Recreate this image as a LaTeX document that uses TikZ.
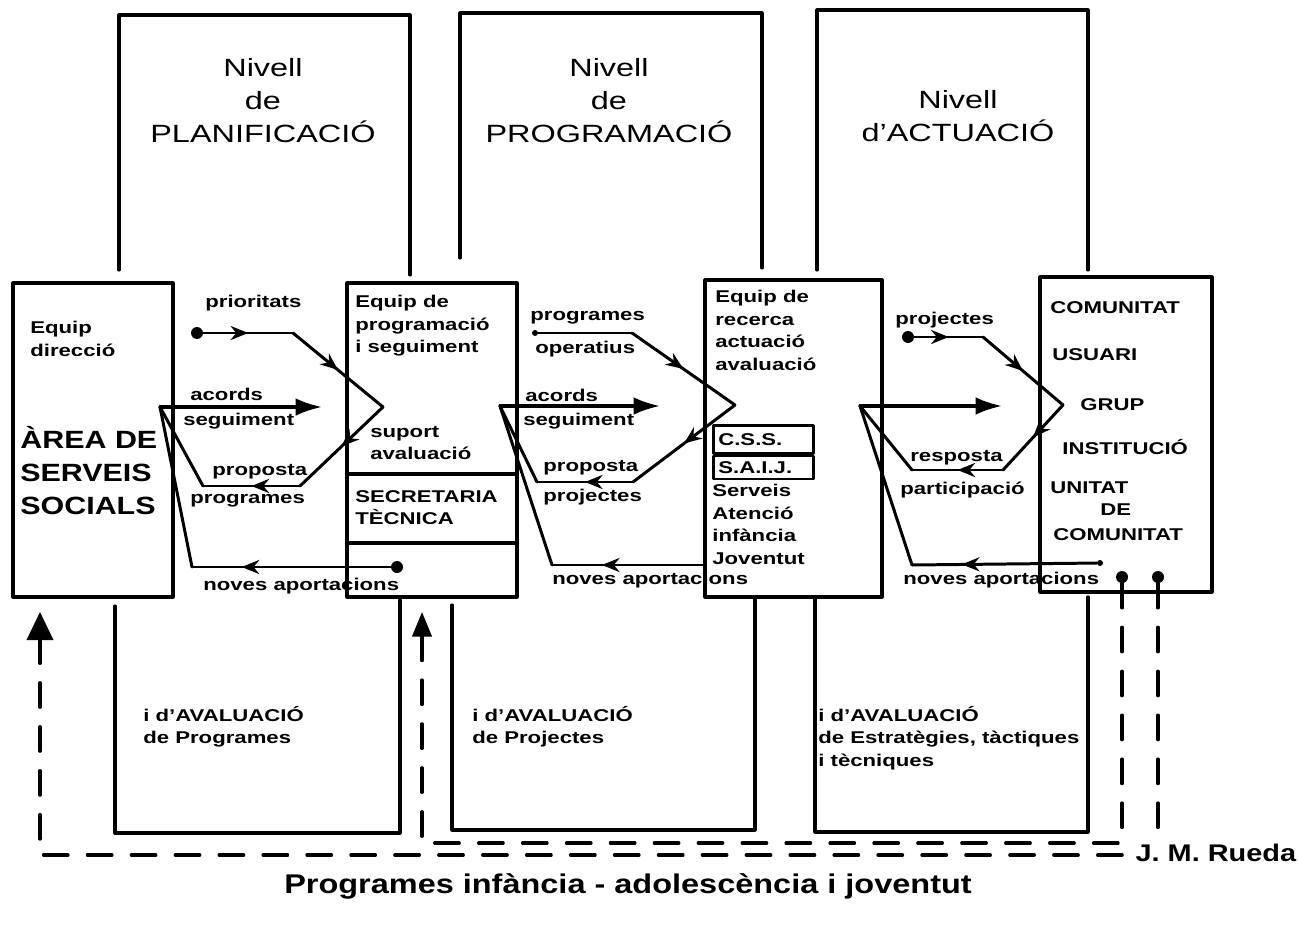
\documentclass[tikz,border=0pt]{standalone}
\usepackage{fontspec}
\setmainfont{Liberation Sans}[FakeStretch=1.3]
\newfontfamily\captionfam{Liberation Sans}[FakeStretch=1.2]
\newfontfamily\areafam{Liberation Sans}[FakeStretch=1.22]
\usetikzlibrary{arrows.meta, positioning, fit, decorations.markings}
\newcommand{\labfont}{\fontsize{9.7}{12.8}\selectfont\bfseries}
\newcommand{\levelfont}{\fontsize{14.2}{18.8}\selectfont}
\newcommand{\areafont}{\areafam\fontsize{14.2}{18.8}\selectfont\bfseries}
\newcommand{\capfont}{\captionfam\fontsize{15.4}{18}\selectfont\bfseries}
\newcommand{\signfont}{\captionfam\fontsize{13.7}{16}\selectfont\bfseries}

\begin{document}
\begin{tikzpicture}[
    x=0.02cm, y=-0.02cm,
    line cap=round, line join=round,
    box/.style={draw, line width=1.8pt, inner sep=0pt},
    frame/.style={line width=1.8pt},
    lab/.style={font=\labfont, inner sep=0pt, anchor=west},
    labblock/.style={font=\labfont, inner sep=0pt, anchor=north west, align=left},
    level/.style={font=\levelfont, inner sep=0pt, anchor=north, align=center},
    flow/.style={line width=1.7pt},
    midarrow/.style={postaction={decorate}, decoration={markings, mark=at position #1 with {\arrow{Stealth[length=10pt, width=8pt]}}}},
    midarrow/.default=0.5,
    bigarrow/.style={line width=1.8pt, -{Latex[length=15pt, width=10pt]}},
    dot/.style={circle, fill, inner sep=0pt, minimum size=0.24cm},
    feedback/.style={line width=1.8pt, dash pattern=on 14pt off 11pt},
    smallbox/.style={draw, line width=1.5pt, font=\labfont, minimum width=2cm, text width=1.8cm, inner xsep=0.1cm, inner ysep=0pt, align=left}
]
    \useasboundingbox (0,0) rectangle (1299,933);

    % Level frames (top)
    \draw[frame] (119,270) -- (119,15) -- (410,15) -- (410,275);
    \draw[frame] (460,258) -- (460,13) -- (762,13) -- (762,268);
    \draw[frame] (817,270) -- (817,10) -- (1088,10) -- (1088,270);
    \node[level] (planif) at (263,58) {Nivell\\de\\PLANIFICACIÓ};
    \node[level] (progr) at (609,58) {Nivell\\de\\PROGRAMACIÓ};
    \node[level] (actua) at (958,90) {Nivell\\d'ACTUACIÓ};

    % Evaluation frames (bottom)
    \draw[frame] (115,606) -- (115,833) -- (400,833) -- (400,600);
    \draw[frame] (452,605) -- (452,830) -- (755,830) -- (755,597);
    \draw[frame] (815,597) -- (815,832) -- (1088,832) -- (1088,597);
    \node[labblock] (avalprog) at (143,706) {i d'AVALUACIÓ\\de Programes};
    \node[labblock] (avalproj) at (472,706) {i d'AVALUACIÓ\\de Projectes};
    \node[labblock] (avalestr) at (818,706) {i d'AVALUACIÓ\\de Estratègies, tàctiques\\i tècniques};

    % Main boxes
    \node[box, fit={(13,283) (173,597)}] (area) {};
    \node[box, fit={(347,283) (517,597)}] (prog) {};
    \node[box, fit={(705,280) (882,597)}] (recerca) {};
    \node[box, fit={(1040,277) (1212,592)}] (comunitat) {};
    \draw[frame] (347,474) -- (517,474);
    \draw[frame] (347,543) -- (517,543);

    % Box texts
    \node[labblock] (equipdir) at (30,321) {Equip\\direcció};
    \node[font=\areafont, inner sep=0pt, anchor=north west, align=left] (areatext) at (20,426) {ÀREA DE\\SERVEIS\\SOCIALS};
    \node[labblock] (equipprog) at (355,295) {Equip de\\programació\\i seguiment};
    \node[labblock] (suport) at (370,426) {suport\\avaluació};
    \node[labblock] (secret) at (355,490) {SECRETARIA\\TÈCNICA};
    \node[labblock] (equiprec) at (715,290) {Equip de\\recerca\\actuació\\avaluació};
    \node[smallbox, minimum height=0.56cm, anchor=north west] (css) at (712,424) {C.S.S.};
    \node[smallbox, minimum height=0.46cm, below=0pt of css] (saij) {S.A.I.J.};
    \node[labblock] (serveis) at (712,484) {Serveis\\Atenció\\infància\\Joventut};
    \node[lab] (comu) at (1050,308) {COMUNITAT};
    \node[lab] (usuari) at (1052,355) {USUARI};
    \node[lab] (grup) at (1080,405) {GRUP};
    \node[lab] (instit) at (1062,447) {INSTITUCIÓ};
    \node[lab] (unitat) at (1050,488) {UNITAT};
    \node[lab] (de) at (1100,510) {DE};
    \node[lab] (comu2) at (1053,535) {COMUNITAT};

    % Planning -> programming
    \node[dot] (prio) at (197,333) {};
    \coordinate (prioBend) at (293,333);
    \coordinate (apexR1) at (383,407);
    \coordinate (apexL1) at (160,407);
    \coordinate (acordsTip1) at (322,407);
    \coordinate (propR1) at (300,486);
    \coordinate (propL1) at (203,486);
    \coordinate (novesL1) at (192,567);
    \node[dot] (novesDot1) at (397,567) {};
    \draw[flow, midarrow] (prio) -- (prioBend);
    \draw[flow, midarrow] (prioBend) -- (apexR1);
    \draw[flow, midarrow] (apexR1) -- (propR1);
    \draw[flow, midarrow] (propR1) -- (propL1);
    \draw[flow] (propL1) -- (apexL1);
    \draw[bigarrow] (apexL1) -- (acordsTip1);
    \draw[flow] (apexL1) -- (novesL1);
    \draw[flow, midarrow=0.75] (novesDot1) -- (novesL1);
    \node[lab] (l1a) at (205,303) {prioritats};
    \node[lab] (l1b) at (190,394) {acords};
    \node[lab] (l1c) at (183,421) {seguiment};
    \node[lab] (l1d) at (212,472) {proposta};
    \node[lab] (l1e) at (190,501) {programes};
    \node[lab] (l1f) at (203,586) {noves aportacions};

    % Programming -> action
    \node[dot, minimum size=0.12cm] (progOp) at (535,333) {};
    \coordinate (progBend) at (632,333);
    \coordinate (apexR2) at (735,405);
    \coordinate (apexL2) at (500,406);
    \coordinate (acordsTip2) at (660,406);
    \coordinate (propR2) at (633,482);
    \coordinate (propL2) at (537,482);
    \coordinate (novesL2) at (552,565);
    \draw[flow] (progOp) -- (progBend);
    \draw[flow, midarrow] (progBend) -- (apexR2);
    \draw[flow, midarrow] (apexR2) -- (propR2);
    \draw[flow, midarrow] (propR2) -- (propL2);
    \draw[flow] (propL2) -- (apexL2);
    \draw[bigarrow] (apexL2) -- (acordsTip2);
    \draw[flow] (apexL2) -- (novesL2);
    \draw[flow, midarrow=0.67] (recerca.west |- novesL2) -- (novesL2);
    \node[lab] (l2a) at (530,318) {programes};
    \node[lab] (l2b) at (535,349) {operatius};
    \node[lab] (l2c) at (525,395) {acords};
    \node[lab] (l2d) at (523,421) {seguiment};
    \node[lab] (l2e) at (543,468) {proposta};
    \node[lab] (l2f) at (543,497) {projectes};
    \node[lab] (l2g) at (552,580) {noves aportacions};

    % Action -> community
    \node[dot] (proj) at (908,337) {};
    \coordinate (projBend) at (983,337);
    \coordinate (apexR3) at (1063,405);
    \coordinate (apexL3) at (860,406);
    \coordinate (actTip3) at (1002,406);
    \coordinate (respR3) at (1003,470);
    \coordinate (respL3) at (912,470);
    \coordinate (novesL3) at (912,565);
    \node[dot, minimum size=0.12cm] (novesDot3) at (1100,563) {};
    \draw[flow, midarrow] (proj) -- (projBend);
    \draw[flow, midarrow] (projBend) -- (apexR3);
    \draw[flow, midarrow] (apexR3) -- (respR3);
    \draw[flow, midarrow] (respR3) -- (respL3);
    \draw[flow] (respL3) -- (apexL3);
    \draw[bigarrow] (apexL3) -- (actTip3);
    \draw[flow] (apexL3) -- (novesL3);
    \draw[flow, midarrow=0.73] (novesDot3) -- (novesL3);
    \node[lab] (l3a) at (895,320) {projectes};
    \node[lab] (l3b) at (910,458) {resposta};
    \node[lab] (l3c) at (900,490) {participació};
    \node[lab] (l3d) at (903,580) {noves aportacions};

    % Feedback loops
    \node[dot] (fbInner) at (1122,577) {};
    \node[dot] (fbOuter) at (1158,577) {};
    \coordinate (innerCorner) at (422,843);
    \coordinate (innerTip) at (422,612);
    \coordinate (outerCorner) at (40,855);
    \coordinate (outerTip) at (40,612);
    \draw[feedback, -{Triangle[length=14pt, width=11pt]}] (fbInner) |- (innerCorner) -- (innerTip);
    \draw[feedback, -{Triangle[length=16pt, width=15pt]}] (fbOuter) |- (outerCorner) -- (outerTip);

    % Signature and caption
    \node[font=\signfont, anchor=west, fill=white, inner sep=3pt] (rueda) at (1130,853) {J. M. Rueda};
    \node[font=\capfont, inner sep=0pt] (caption) at (628,886) {Programes infància - adolescència i joventut};
\end{tikzpicture}
\end{document}
